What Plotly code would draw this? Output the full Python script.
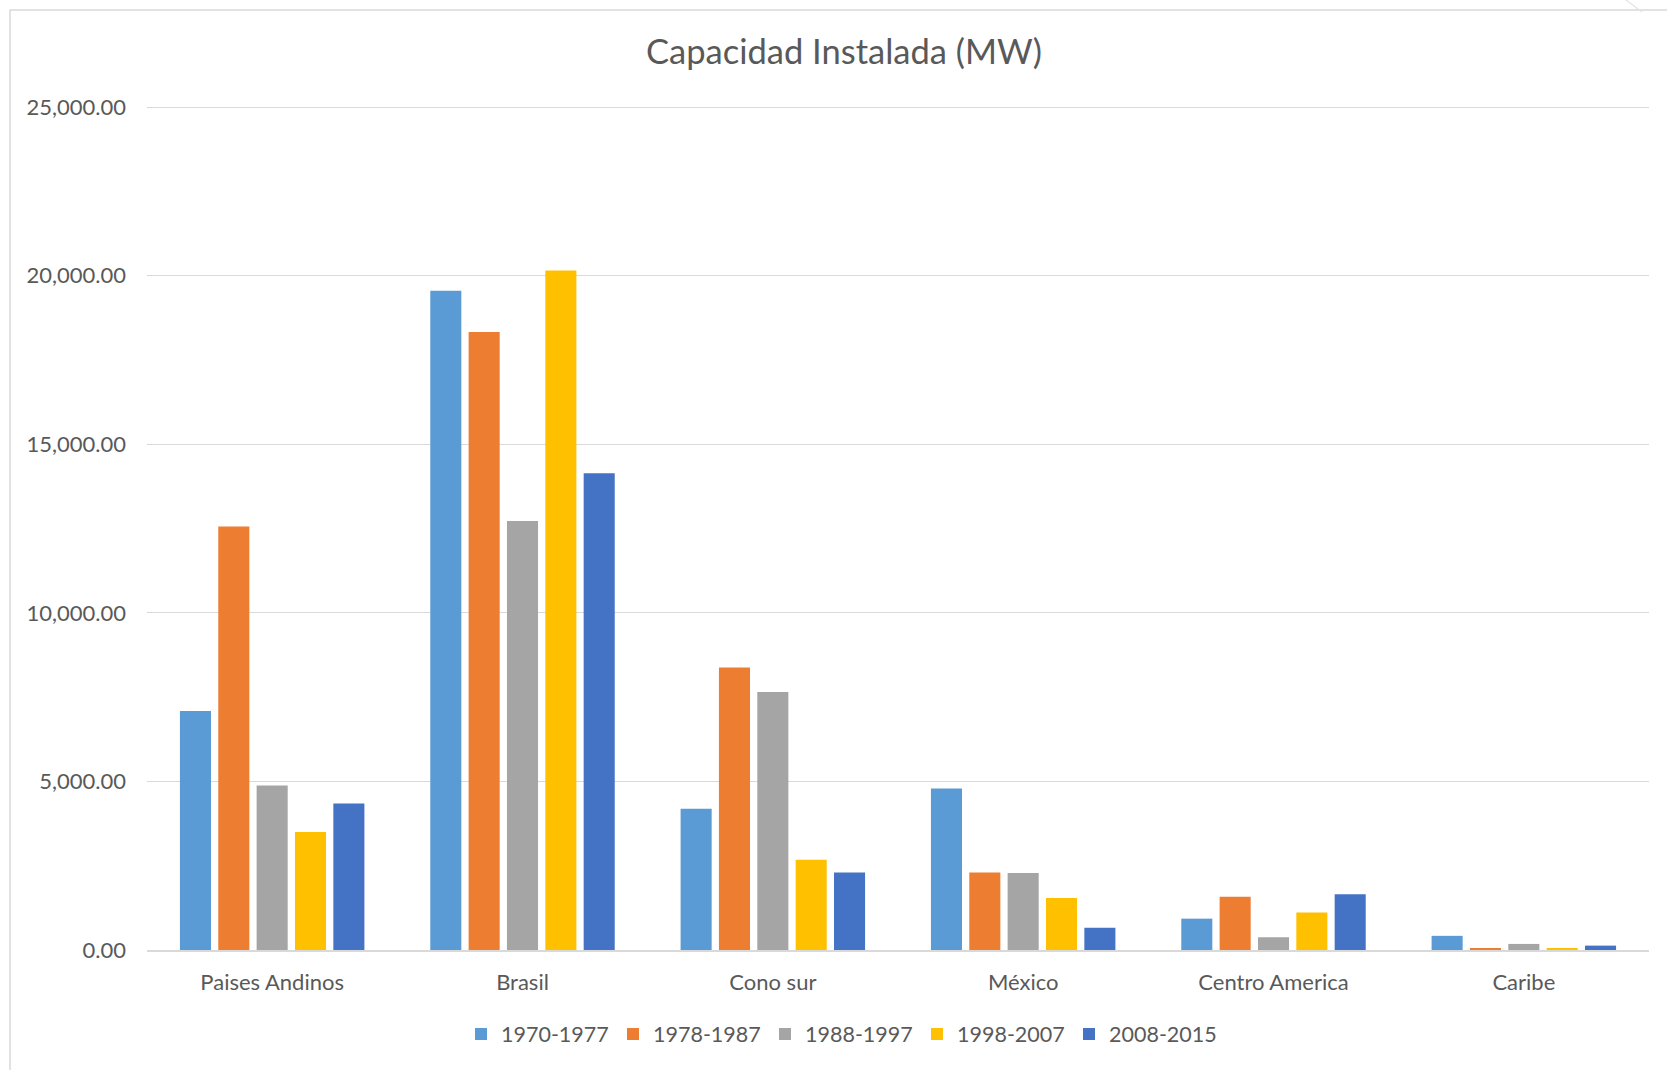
import plotly.graph_objects as go

# Installed hydro capacity (MW) by region and period
regions = ["Paises Andinos", "Brasil", "Cono sur", "México", "Centro America", "Caribe"]
periods = ["1970-1977", "1978-1987", "1988-1997", "1998-2007", "2008-2015"]

cap_1970_1977 = [7090, 19550, 4190, 4790, 930, 420]
cap_1978_1987 = [12560, 18330, 8380, 2300, 1580, 30]
cap_1988_1997 = [4880, 12720, 7650, 2280, 380, 180]
cap_1998_2007 = [3500, 20150, 2680, 1540, 1110, 50]
cap_2008_2015 = [4345, 14140, 2300, 660, 1650, 130]

series = [cap_1970_1977, cap_1978_1987, cap_1988_1997, cap_1998_2007, cap_2008_2015]
colors = ["#5B9BD5", "#ED7D31", "#A5A5A5", "#FFC000", "#4472C4"]

FONT = "Lato"
TEXT = "#595959"
GRID = "#D9D9D9"

W, H = 1667, 1070
L, R, T, B = 147, 18, 105, 120
PW, PH = W - L - R, H - T - B


def px_x(x):
    return (x - L) / PW


def px_y(y):
    return (H - B - y) / PH


fig = go.Figure()
for name, vals, col in zip(periods, series, colors):
    fig.add_trace(go.Bar(name=name, x=regions, y=vals, marker_color=col,
                         marker_line_width=0))

fig.update_layout(
    width=W, height=H,
    margin=dict(l=L, r=R, t=T, b=B),
    paper_bgcolor="white", plot_bgcolor="white",
    barmode="group", bargap=0.234, bargroupgap=0.19,
    font=dict(family=FONT, color=TEXT, size=21.5),
    title=dict(text="Capacidad Instalada (MW)", x=844 / W, xref="container",
               xanchor="center", y=1 - 52 / H, yref="container", yanchor="middle",
               font=dict(family=FONT, size=34.5, color=TEXT)),
    legend=dict(orientation="h", x=px_x(461), xanchor="left",
                y=px_y(1034), yanchor="middle",
                entrywidth=107, font=dict(size=21.5, color=TEXT),
                bgcolor="rgba(0,0,0,0)"),
    showlegend=True,
)

fig.update_xaxes(showgrid=False, showline=True, linecolor=GRID, linewidth=2,
                 ticks="", ticklabelstandoff=12,
                 tickfont=dict(size=22, color=TEXT))
# a little headroom above 25,000 so its gridline is kept
fig.update_yaxes(range=[0, 25060], tickvals=[0, 5000, 10000, 15000, 20000, 25000],
                 tickformat=",.2f",
                 showgrid=True, gridcolor=GRID, gridwidth=1.3,
                 zeroline=False, showline=False, ticks="",
                 ticklabelstandoff=20, tickfont=dict(size=22, color=TEXT))

# Chart frame
fig.add_shape(type="rect", xref="paper", yref="paper",
              x0=px_x(10), x1=px_x(1690), y0=px_y(1090), y1=px_y(10),
              line=dict(color=GRID, width=1.5), fillcolor="rgba(0,0,0,0)",
              layer="below")
fig.add_shape(type="line", xref="paper", yref="paper",
              x0=px_x(1626), x1=px_x(1642), y0=px_y(0), y1=px_y(12),
              line=dict(color="#E3E3E3", width=1.2))

fig.write_html("out.html")
